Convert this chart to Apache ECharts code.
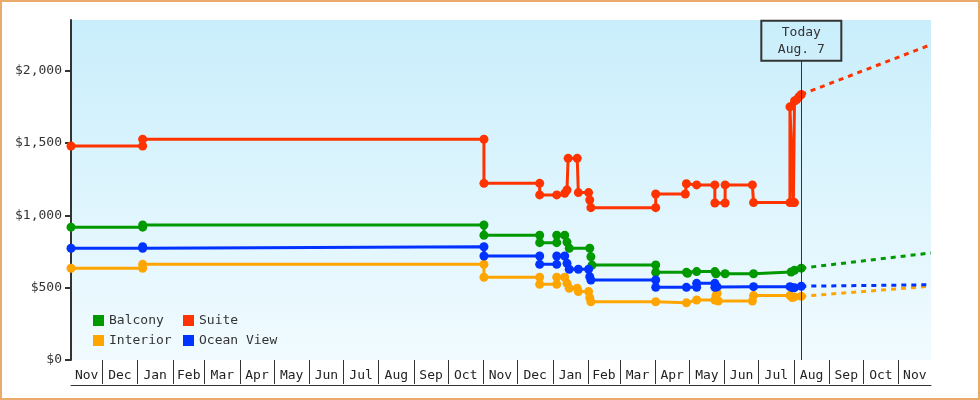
<!DOCTYPE html>
<html>
<head>
<meta charset="utf-8">
<script src="https://cdn.jsdelivr.net/npm/echarts@6/dist/echarts.min.js"></script>
<style>
  html, body { margin: 0; padding: 0; background: #fff; }
  #wrap { position: relative; width: 980px; height: 400px; }
  #chart { width: 980px; height: 400px; }
  #frame { position: absolute; left: 0; top: 0; width: 980px; height: 400px;
           box-sizing: border-box; border: 2px solid #e9aa6b; pointer-events: none; }
</style>
</head>
<body>
<div id="wrap"><div id="chart"></div><div id="frame"></div></div>
<script>
// price history, one [date, price] pair per point
var balconyPrices = [
    ['2017-11-03', 918], ['2018-01-05', 918], ['2018-01-05', 933], ['2018-11-01', 933],
    ['2018-11-01', 862], ['2018-12-20', 862], ['2018-12-20', 811], ['2019-01-04', 811],
    ['2019-01-04', 862], ['2019-01-11', 862], ['2019-01-13', 815], ['2019-01-15', 772],
    ['2019-02-02', 772], ['2019-02-03', 714], ['2019-02-04', 656], ['2019-04-01', 657],
    ['2019-04-01', 606], ['2019-04-28', 606], ['2019-04-29', 599], ['2019-05-07', 611],
    ['2019-05-23', 611], ['2019-05-24', 596], ['2019-06-01', 596], ['2019-06-26', 596],
    ['2019-07-29', 608], ['2019-08-01', 620], ['2019-08-07', 635]
];
var suitePrices = [
    ['2017-11-03', 1479], ['2018-01-05', 1479], ['2018-01-05', 1526], ['2018-11-01', 1526],
    ['2018-11-01', 1221], ['2018-12-20', 1221], ['2018-12-20', 1141], ['2019-01-04', 1141],
    ['2019-01-11', 1152], ['2019-01-13', 1175], ['2019-01-14', 1394], ['2019-01-22', 1394],
    ['2019-01-23', 1157], ['2019-02-01', 1157], ['2019-02-02', 1106], ['2019-02-03', 1053],
    ['2019-04-01', 1053], ['2019-04-01', 1147], ['2019-04-27', 1147], ['2019-04-28', 1218],
    ['2019-05-07', 1210], ['2019-05-23', 1210], ['2019-05-23', 1085], ['2019-06-01', 1085],
    ['2019-06-01', 1210], ['2019-06-25', 1210], ['2019-06-26', 1088], ['2019-07-28', 1088],
    ['2019-07-28', 1750], ['2019-07-31', 1088], ['2019-08-01', 1088], ['2019-08-01', 1790],
    ['2019-08-03', 1800], ['2019-08-05', 1820], ['2019-08-07', 1835]
];
var interiorPrices = [
    ['2017-11-03', 634], ['2018-01-05', 634], ['2018-01-05', 661], ['2018-11-01', 661],
    ['2018-11-01', 572], ['2018-12-20', 572], ['2018-12-20', 523], ['2019-01-04', 523],
    ['2019-01-04', 572], ['2019-01-11', 572], ['2019-01-13', 530], ['2019-01-15', 496],
    ['2019-01-22', 496], ['2019-01-23', 473], ['2019-02-01', 473], ['2019-02-02', 430],
    ['2019-02-03', 403], ['2019-04-01', 403], ['2019-04-28', 395], ['2019-05-07', 415],
    ['2019-05-23', 415], ['2019-05-24', 445], ['2019-05-25', 462], ['2019-05-26', 408],
    ['2019-06-25', 408], ['2019-06-26', 445], ['2019-07-28', 445], ['2019-07-30', 432],
    ['2019-08-01', 436], ['2019-08-07', 440]
];
var oceanViewPrices = [
    ['2017-11-03', 772], ['2018-01-05', 772], ['2018-01-05', 783], ['2018-11-01', 783],
    ['2018-11-01', 719], ['2018-12-20', 719], ['2018-12-20', 661], ['2019-01-04', 661],
    ['2019-01-04', 719], ['2019-01-11', 719], ['2019-01-13', 668], ['2019-01-15', 627],
    ['2019-01-23', 627], ['2019-02-01', 627], ['2019-02-02', 576], ['2019-02-03', 553],
    ['2019-04-01', 553], ['2019-04-01', 502], ['2019-04-28', 502], ['2019-05-07', 502],
    ['2019-05-07', 530], ['2019-05-23', 530], ['2019-05-23', 502], ['2019-05-25', 505],
    ['2019-06-26', 507], ['2019-07-28', 507], ['2019-07-30', 500], ['2019-08-01', 500],
    ['2019-08-07', 510]
];
// projected prices from today to the end of the axis
var balconyForecast = [['2019-08-07', 635], ['2019-11-29', 740]];
var suiteForecast = [['2019-08-07', 1835], ['2019-11-29', 2180]];
var interiorForecast = [['2019-08-07', 440], ['2019-11-29', 510]];
var oceanViewForecast = [['2019-08-07', 510], ['2019-11-29', 520]];

var today = '2019-08-07';
var todayLabel = 'Today\nAug. 7';
var axisStart = '2017-11-03';
var axisEnd = '2019-11-29';
// month boundaries (box edges) and the month names shown in the boxes
var monthEdges = ['2017-12-01', '2018-01-01', '2018-02-01', '2018-03-01', '2018-04-01', '2018-05-01',
    '2018-06-01', '2018-07-01', '2018-08-01', '2018-09-01', '2018-10-01', '2018-11-01', '2018-12-01',
    '2019-01-01', '2019-02-01', '2019-03-01', '2019-04-01', '2019-05-01', '2019-06-01', '2019-07-01',
    '2019-08-01', '2019-09-01', '2019-10-01', '2019-11-01'];
var monthNames = ['Jan', 'Feb', 'Mar', 'Apr', 'May', 'Jun', 'Jul', 'Aug', 'Sep', 'Oct', 'Nov', 'Dec'];
var priceTicks = [0, 500, 1000, 1500, 2000];

var colors = {Balcony: '#009900', Suite: '#ff3300', Interior: '#ffa500', 'Ocean View': '#0033ff'};
var FONT = 'DejaVu Sans Mono';
var DAY = 86400000;

// dates become day numbers on a plain value axis
function t(s) {
    var p = s.split('-');
    return Date.UTC(+p[0], +p[1] - 1, +p[2]) / DAY + 0.5;
}
function pts(arr) {
    return arr.map(function (d) { return [t(d[0]), d[1]]; });
}

var edgeDays = monthEdges.map(function (s) { return t(s) - 0.5; });
var allEdges = [t(axisStart)].concat(edgeDays).concat([t(axisEnd)]);
var labelDays = [];
for (var i = 0; i < allEdges.length - 1; i++) {
    labelDays.push((allEdges[i] + allEdges[i + 1]) / 2);
}

var chart = echarts.init(document.getElementById('chart'));

function history(name, data) {
    return {
        name: name,
        type: 'line',
        data: pts(data),
        symbol: 'circle',
        symbolSize: 9,
        itemStyle: {color: colors[name]},
        lineStyle: {width: 3, color: colors[name]},
        z: 3
    };
}
function forecast(name, data) {
    return {
        name: name,
        type: 'line',
        data: pts(data),
        symbol: 'none',
        itemStyle: {color: colors[name]},
        lineStyle: {width: 3, color: colors[name], type: [5, 5]},
        z: 2
    };
}

var series = [
    history('Balcony', balconyPrices),
    history('Suite', suitePrices),
    history('Interior', interiorPrices),
    history('Ocean View', oceanViewPrices),
    forecast('Balcony', balconyForecast),
    forecast('Suite', suiteForecast),
    forecast('Interior', interiorForecast),
    forecast('Ocean View', oceanViewForecast)
];
series[0].markLine = {
    silent: true,
    symbol: ['none', 'none'],
    animation: false,
    lineStyle: {color: '#333', width: 1, type: 'solid'},
    label: {
        show: true,
        position: 'end',
        distance: 0,
        formatter: todayLabel,
        fontFamily: FONT,
        fontSize: 13,
        lineHeight: 17,
        color: '#333',
        align: 'center',
        width: 48,
        padding: [3, 16, 3, 16],
        borderColor: '#333',
        borderWidth: 1,
        backgroundColor: 'rgba(0,0,0,0)'
    },
    data: [[{coord: [t(today), 0]}, {coord: [t(today), 2069]}]]
};

var legendBase = {
    orient: 'vertical',
    top: 309,
    icon: 'rect',
    itemWidth: 11,
    itemHeight: 11,
    itemGap: 7,
    selectedMode: false,
    textStyle: {fontFamily: FONT, fontSize: 13, color: '#333'}
};

chart.setOption({
    animation: false,
    textStyle: {fontFamily: FONT},
    grid: {
        left: 71, right: 49, top: 20, bottom: 40,
        show: true,
        borderWidth: 0,
        backgroundColor: new echarts.graphic.LinearGradient(0, 0, 0, 1, [
            {offset: 0, color: '#c9eefb'},
            {offset: 1, color: '#f1fbff'}
        ])
    },
    legend: [
        Object.assign({}, legendBase, {left: 88, data: ['Balcony', 'Interior']}),
        Object.assign({}, legendBase, {left: 178, data: ['Suite', 'Ocean View']})
    ],
    xAxis: [{
        type: 'value',
        min: t(axisStart),
        max: t(axisEnd),
        axisLine: {show: false},
        axisTick: {show: true, customValues: edgeDays, length: 24, lineStyle: {color: '#333', width: 1}},
        axisLabel: {
            customValues: labelDays,
            margin: 9,
            fontFamily: FONT,
            fontSize: 13,
            color: '#222',
            formatter: function (v) { return monthNames[new Date(v * DAY).getUTCMonth()]; }
        },
        splitLine: {show: false}
    }, {
        type: 'value',
        min: t(axisStart),
        max: t(axisEnd),
        position: 'bottom',
        offset: 25,
        axisLine: {show: true, lineStyle: {color: '#333', width: 1}},
        axisTick: {show: false},
        axisLabel: {show: false},
        splitLine: {show: false}
    }],
    yAxis: {
        type: 'value',
        min: 0,
        max: 2350,
        interval: 500,
        axisLine: {show: true, lineStyle: {color: '#333', width: 2}},
        axisTick: {show: true, customValues: priceTicks, length: 6, lineStyle: {color: '#333', width: 2}},
        axisLabel: {
            customValues: priceTicks,
            margin: 9,
            fontFamily: FONT,
            fontSize: 13,
            color: '#333',
            formatter: function (v) { return '$' + v.toLocaleString('en-US'); }
        },
        splitLine: {show: false}
    },
    series: series
});
</script>
</body>
</html>
